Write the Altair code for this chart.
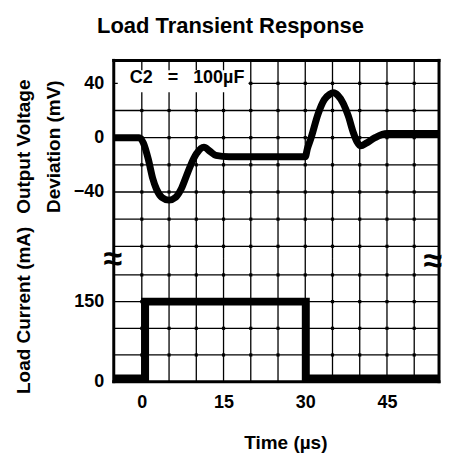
import altair as alt
import pandas as pd

# ---- data ----
TIME_US = [-5.15, -0.5, 0.3, 1.2, 2.0, 2.7, 3.7, 5.0, 6.2, 7.2, 8.2, 9.0, 10.0, 11.4, 12.5, 13.6,
           16.0, 22.0, 30.0, 30.4, 31.0, 32.4, 33.5, 34.5, 35.2, 36.0, 37.0, 37.9, 38.8, 39.5,
           40.2, 41.2, 42.8, 45.0, 50.0, 54.55]
VOUT_MV = [0, 0, -4, -16, -30, -38, -44, -46, -44, -38, -28, -20, -12, -7, -10, -13,
           -14, -14, -14, -8, -1, 18, 28, 32, 33, 31, 25, 16, 4, -3,
           -6, -4, 0, 3, 3, 3]
LOAD_T_US = [-5.15, 0.6, 0.6, 30.1, 30.1, 54.55]
LOAD_MA = [6, 6, 150, 150, 6, 6]

TIME_GRID = [0, 5, 10, 15, 20, 25, 30, 35, 40, 45, 50]
VOUT_GRID = [-80, -60, -40, -20, 0, 20, 40]
LOAD_GRID = [50, 100, 150, 200]
TIME_TICKS = [0, 15, 30, 45]
VOUT_TICKS = [-40, 0, 40]
LOAD_TICKS = [0, 150]

TITLE = "Load Transient Response"
NB = "\u00a0\u00a0\u00a0"
ANNOTATION = "C2" + NB + "=" + NB + "100\u00b5F"
VOUT_TITLE = ["Output Voltage", "Deviation (mV)"]
LOAD_TITLE = "Load Current (mA)"
TIME_TITLE = "Time (\u00b5s)"
BREAK_MARK = "\u2248"

FONT = "Liberation Sans"
W, H_TOP, H_BOT = 326, 199, 123

x_scale = alt.Scale(domain=[-5.15, 54.55], nice=False, zero=False)
y_top = alt.Scale(domain=[-89.3, 56.9], nice=False, zero=False)
y_bot = alt.Scale(domain=[0, 230], nice=False, zero=False)

common_axis = dict(labelFont=FONT, labelFontSize=18, labelFontWeight="bold", labelColor="black",
                   ticks=False, tickSize=0, domain=False, grid=False,
                   titleFont=FONT, titleFontSize=19, titleFontWeight="bold", titleColor="black",
                   titleBaseline="alphabetic", titleAlign="center")

x_axis = alt.Axis(values=TIME_TICKS, title=TIME_TITLE, labelPadding=12,
                  titleX=172, titleY=67, **common_axis)
y_axis_top = alt.Axis(values=VOUT_TICKS, title=VOUT_TITLE, labelPadding=10,
                      titleX=-84, titleY=86, titleLineHeight=30, **common_axis)
y_axis_bot = alt.Axis(values=LOAD_TICKS, title=LOAD_TITLE, labelPadding=10,
                      titleX=-84, titleY=51, **common_axis)

GRID_W = 1.3
BORDER_W = 3


def frame_rule(**enc):
    return alt.Chart(pd.DataFrame({"a": [0]})).mark_rule(
        color="black", strokeWidth=BORDER_W, strokeCap="square").encode(**enc)


# ---------------- top panel ----------------
vgrid_top = alt.Chart(pd.DataFrame({"t": TIME_GRID})).mark_rule(
    color="black", strokeWidth=GRID_W).encode(x=alt.X("t:Q", scale=x_scale, axis=None))
hgrid_top = alt.Chart(pd.DataFrame({"mv": VOUT_GRID})).mark_rule(
    color="black", strokeWidth=GRID_W).encode(y=alt.Y("mv:Q", scale=y_top, axis=y_axis_top))
dots_top = alt.Chart(pd.DataFrame([(t, v) for t in TIME_GRID for v in VOUT_GRID],
                                  columns=["t", "mv"])).mark_square(
    color="black", size=10, opacity=1).encode(
    x=alt.X("t:Q", scale=x_scale, axis=None), y=alt.Y("mv:Q", scale=y_top, axis=y_axis_top))
note_box = alt.Chart(pd.DataFrame({"a": [0]})).mark_rect(color="white").encode(
    x=alt.value(4), x2=alt.value(135), y=alt.value(10), y2=alt.value(32))
note_text = alt.Chart(pd.DataFrame({"a": [0]})).mark_text(
    text=ANNOTATION, font=FONT, fontSize=18, fontWeight="bold", color="black",
    align="center", baseline="middle").encode(x=alt.value(73.5), y=alt.value(18))
line_top = alt.Chart(pd.DataFrame({"t": TIME_US, "mv": VOUT_MV})).mark_line(
    color="black", strokeWidth=7, interpolate="monotone", clip=True).encode(
    x=alt.X("t:Q", scale=x_scale, axis=None), y=alt.Y("mv:Q", scale=y_top, axis=y_axis_top))

top = alt.layer(
    vgrid_top, hgrid_top, dots_top, note_box, note_text, line_top,
    frame_rule(x=alt.value(0), y=alt.value(0), y2=alt.value(H_TOP)),
    frame_rule(x=alt.value(W), y=alt.value(0), y2=alt.value(H_TOP)),
    frame_rule(x=alt.value(0), x2=alt.value(W), y=alt.value(0)),
).properties(width=W, height=H_TOP)

# ---------------- bottom panel ----------------
vgrid_bot = alt.Chart(pd.DataFrame({"t": TIME_GRID})).mark_rule(
    color="black", strokeWidth=GRID_W).encode(x=alt.X("t:Q", scale=x_scale, axis=x_axis))
hgrid_bot = alt.Chart(pd.DataFrame({"ma": LOAD_GRID})).mark_rule(
    color="black", strokeWidth=GRID_W).encode(y=alt.Y("ma:Q", scale=y_bot, axis=y_axis_bot))
dots_bot = alt.Chart(pd.DataFrame([(t, v) for t in TIME_GRID for v in LOAD_GRID],
                                  columns=["t", "ma"])).mark_square(
    color="black", size=10, opacity=1).encode(
    x=alt.X("t:Q", scale=x_scale, axis=x_axis), y=alt.Y("ma:Q", scale=y_bot, axis=y_axis_bot))
line_bot = alt.Chart(pd.DataFrame({"t": LOAD_T_US, "ma": LOAD_MA, "i": list(range(len(LOAD_MA)))})).mark_line(
    color="black", strokeWidth=8, clip=True, strokeJoin="miter").encode(
    x=alt.X("t:Q", scale=x_scale, axis=x_axis), y=alt.Y("ma:Q", scale=y_bot, axis=y_axis_bot),
    order="i:O")


def break_mark(xpx, ypx, align="center"):
    return alt.Chart(pd.DataFrame({"a": [0]})).mark_text(
        text=BREAK_MARK, font=FONT, fontSize=34, fontWeight="bold", color="black",
        align=align, baseline="middle").encode(x=alt.value(xpx), y=alt.value(ypx))


bottom = alt.layer(
    vgrid_bot, hgrid_bot, dots_bot, line_bot,
    frame_rule(x=alt.value(0), y=alt.value(0), y2=alt.value(H_BOT)),
    frame_rule(x=alt.value(W), y=alt.value(0), y2=alt.value(H_BOT)),
    frame_rule(x=alt.value(0), x2=alt.value(W), y=alt.value(H_BOT)),
    break_mark(-1, 1), break_mark(W + 3, 3, "right"),
).properties(width=W, height=H_BOT)

chart = alt.vconcat(top, bottom, spacing=0, bounds="flush").properties(
    title=alt.Title(TITLE, font=FONT, fontSize=22, fontWeight="bold", color="black",
                    anchor="middle", offset=20, dx=2),
    padding={"left": 6, "top": 6, "right": 0, "bottom": 0},
).configure_view(stroke=None).configure_concat(spacing=0)

chart.save("out.html", embed_options={"renderer": "svg", "actions": False})
